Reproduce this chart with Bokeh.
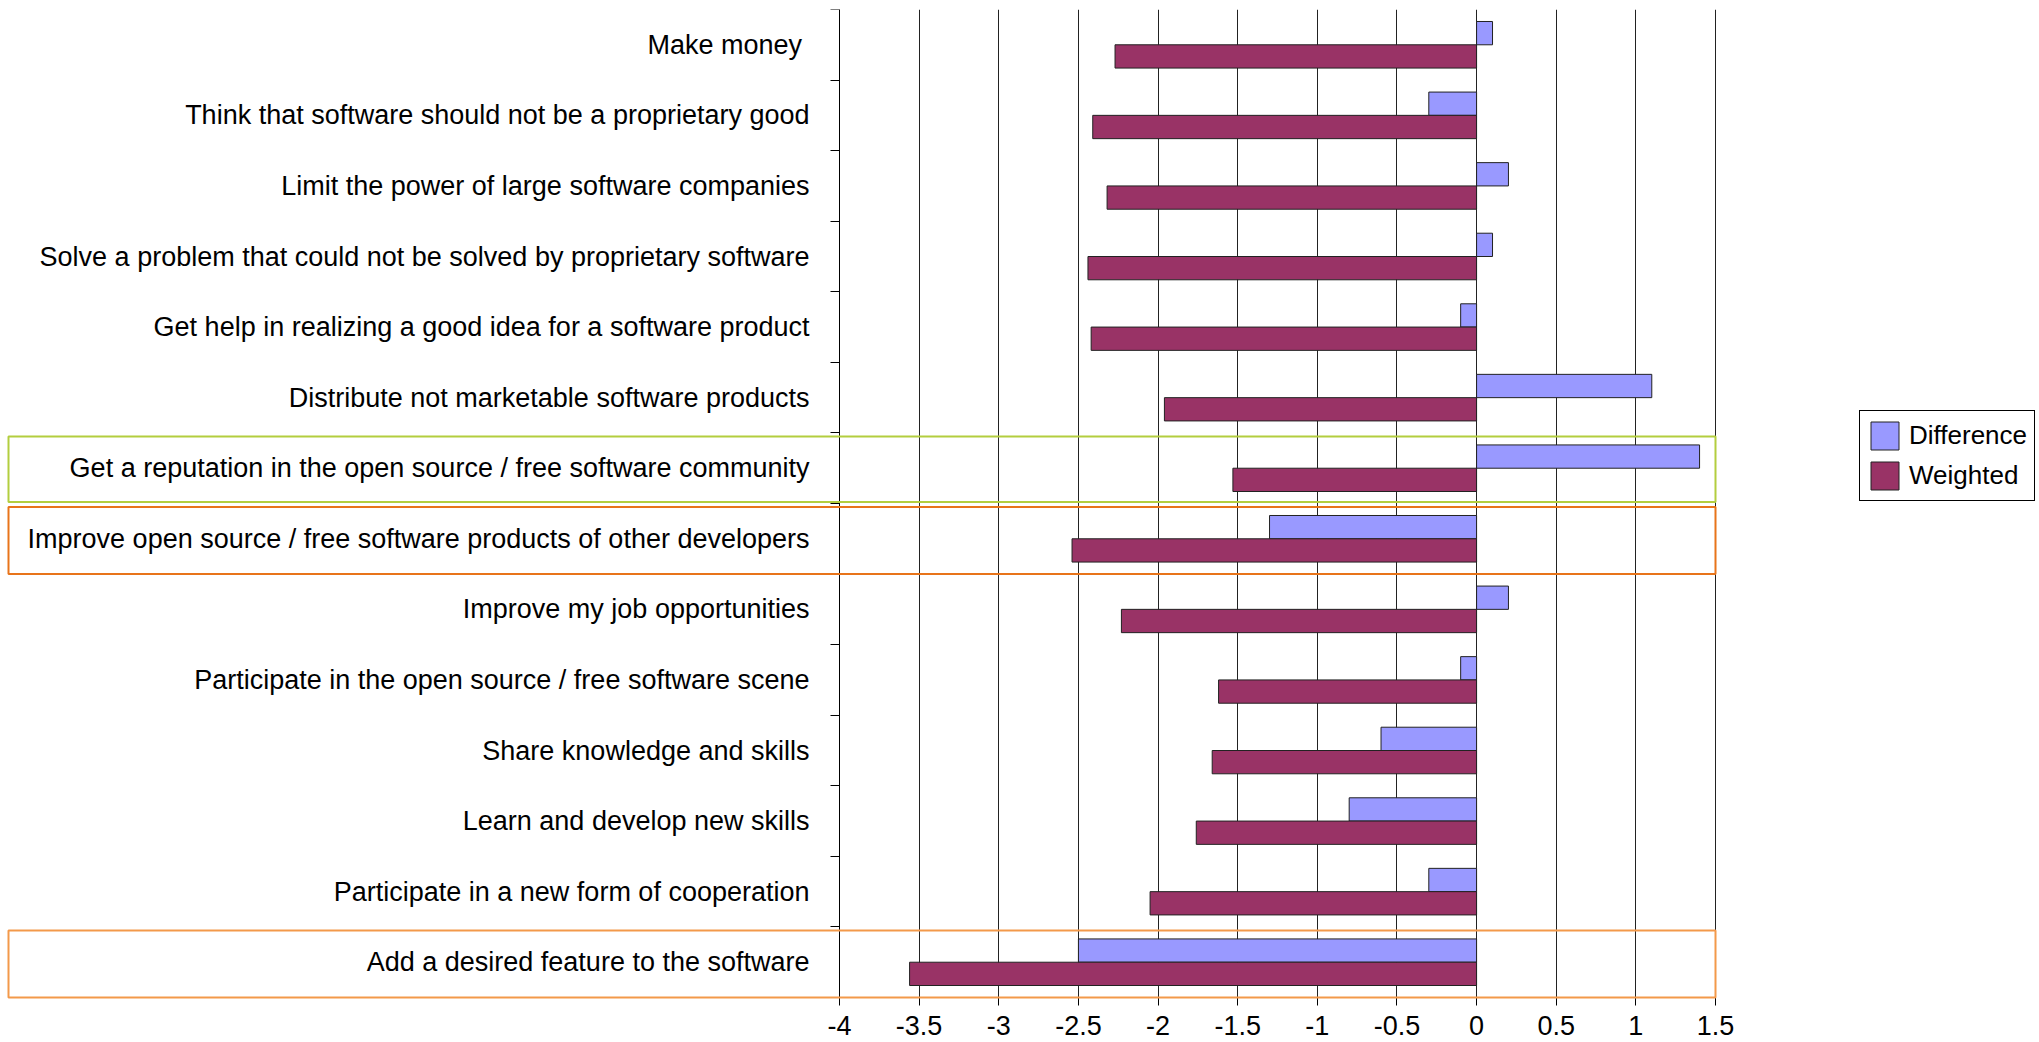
from bokeh.plotting import figure
from bokeh.models import ColumnDataSource, FixedTicker, Legend, LegendItem, BoxAnnotation, Range1d
from bokeh.embed import file_html
from bokeh.resources import INLINE

categories = [
    "Make money ",
    "Think that software should not be a proprietary good",
    "Limit the power of large software companies",
    "Solve a problem that could not be solved by proprietary software",
    "Get help in realizing a good idea for a software product",
    "Distribute not marketable software products",
    "Get a reputation in the open source / free software community",
    "Improve open source / free software products of other developers",
    "Improve my job opportunities",
    "Participate in the open source / free software scene",
    "Share knowledge and skills",
    "Learn and develop new skills",
    "Participate in a new form of cooperation",
    "Add a desired feature to the software",
]
difference = [0.1, -0.3, 0.2, 0.1, -0.1, 1.1, 1.4, -1.3, 0.2, -0.1, -0.6, -0.8, -0.3, -2.5]
weighted = [-2.27, -2.41, -2.32, -2.44, -2.42, -1.96, -1.53, -2.54, -2.23, -1.62, -1.66, -1.76, -2.05, -3.56]
x_ticks = [-4, -3.5, -3, -2.5, -2, -1.5, -1, -0.5, 0, 0.5, 1, 1.5]
x_tick_labels = ["-4", "-3.5", "-3", "-2.5", "-2", "-1.5", "-1", "-0.5", "0", "0.5", "1", "1.5"]
green_highlight = ["Get a reputation in the open source / free software community"]
orange_highlight = ["Improve open source / free software products of other developers",
                    "Add a desired feature to the software"]

# layout (pixels)
W, H, TOP = 2039, 1042, 9
AX_LEFT_PX, AX_RIGHT_PX = 839, 1715      # where x=-4 and x=1.5 sit
AX_BOTTOM_PX = 997                       # where the category axis ends
XMIN, XMAX = x_ticks[0], x_ticks[-1]
ppu = (AX_RIGHT_PX - AX_LEFT_PX) / (XMAX - XMIN)
x_start = XMIN - AX_LEFT_PX / ppu
x_end = XMAX + (W - AX_RIGHT_PX) / ppu

n = len(categories)
YMIN, YMAX = 0.5, n + 0.5
ppu_y = (AX_BOTTOM_PX - TOP) / (YMAX - YMIN)
y_start = YMIN - (H - AX_BOTTOM_PX) / ppu_y

yc = [n - i for i in range(n)]  # integer centres, top category highest
src = ColumnDataSource(dict(
    cat=categories,
    y_d=[y + 0.165 for y in yc],
    y_w=[y - 0.165 for y in yc],
    diff=difference,
    w=weighted,
))

FONT = "Liberation Sans"

p = figure(frame_width=W, frame_height=H - TOP,
           x_range=Range1d(x_start, x_end), y_range=Range1d(y_start, YMAX),
           output_backend="svg", toolbar_location=None,
           min_border_left=0, min_border_right=0,
           min_border_top=TOP, min_border_bottom=0)
p.outline_line_color = None
p.background_fill_color = "white"
p.border_fill_color = "white"

r_d = p.hbar(y="y_d", left=0, right="diff", height=0.33, source=src,
             fill_color="#9999ff", line_color="#222222", line_width=1)
r_w = p.hbar(y="y_w", left=0, right="w", height=0.33, source=src,
             fill_color="#993366", line_color="#222222", line_width=1)

# x axis drawn at the bottom of the category range
xt = FixedTicker(ticks=x_ticks, minor_ticks=[])
p.xaxis.fixed_location = YMIN
p.xaxis.ticker = xt
p.xaxis.bounds = (XMIN, XMAX)
p.xaxis.major_label_overrides = {t: l for t, l in zip(x_ticks, x_tick_labels)}
p.xaxis.major_label_text_font = FONT
p.xaxis.major_label_text_font_size = "27px"
p.xaxis.major_label_text_color = "black"
p.xaxis.major_tick_out = 8
p.xaxis.major_tick_in = 0
p.xaxis.minor_tick_line_color = None
p.xaxis.axis_line_color = "black"
p.xaxis.major_tick_line_color = "black"
p.xaxis.major_label_standoff = 10

p.xgrid.ticker = xt
p.xgrid.cross_bounds = (YMIN, YMAX)
p.xgrid.grid_line_color = "#222222"
p.xgrid.grid_line_width = 1
p.ygrid.visible = False

# y axis drawn at x = -4 inside the frame
yt = FixedTicker(ticks=yc, minor_ticks=[k + 0.5 for k in range(n + 1)])
p.yaxis.fixed_location = XMIN
p.yaxis.ticker = yt
p.yaxis.bounds = (YMIN, YMAX)
p.yaxis.major_label_overrides = {y: c for y, c in zip(yc, categories)}
p.yaxis.major_label_text_font = FONT
p.yaxis.major_label_text_font_size = "27px"
p.yaxis.major_label_text_color = "black"
p.yaxis.major_tick_line_color = None
p.yaxis.major_tick_out = 0
p.yaxis.major_tick_in = 0
p.yaxis.minor_tick_out = 9
p.yaxis.minor_tick_in = 0
p.yaxis.minor_tick_line_color = "black"
p.yaxis.axis_line_color = "black"
p.yaxis.major_label_standoff = 21

# highlight boxes
box_left = x_start + 8 / ppu
for cat in green_highlight + orange_highlight:
    y = yc[categories.index(cat)]
    if cat in green_highlight:
        color, bot = "#b3ce3f", y - 0.48
    elif cat == orange_highlight[0]:
        color, bot = "#e8741a", y - 0.5
    else:
        color, bot = "#f3994a", y - 0.5
    p.add_layout(BoxAnnotation(left=box_left, right=XMAX, bottom=bot, top=y + 0.45,
                               fill_alpha=0, line_color=color, line_alpha=1,
                               line_width=2, level="overlay"))

legend = Legend(items=[LegendItem(label="Difference", renderers=[r_d]),
                       LegendItem(label="Weighted", renderers=[r_w])],
                location=(1859, H - 501))
legend.label_text_font = FONT
legend.label_text_font_size = "26px"
legend.label_text_color = "black"
legend.glyph_width = 35
legend.glyph_height = 35
legend.spacing = 5
legend.padding = 7
legend.margin = 0
legend.label_standoff = 7
legend.border_line_color = "black"
legend.border_line_width = 1
legend.border_line_alpha = 1
legend.background_fill_alpha = 1
p.add_layout(legend, "center")

open("out.html", "w").write(file_html(p, INLINE))
